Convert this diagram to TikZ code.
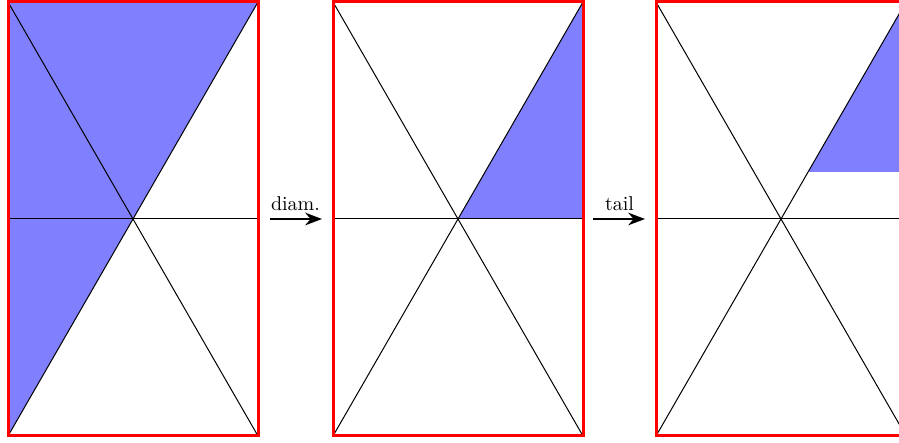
\documentclass[tikz,border=0pt]{standalone}
\usetikzlibrary{arrows.meta,positioning,backgrounds,calc}

\begin{document}
\begin{tikzpicture}[x=0.5pt, y=0.5pt,
  panel/.style={draw=red, line width=1.5pt, minimum width=125pt, minimum height=217pt, inner sep=0pt, outer sep=0pt},
  region/.style={fill=blue!50},
  split/.style={line width=0.5pt},
  arrow/.style={-Stealth, very thick}
]
  \useasboundingbox (0,0) rectangle (899,443);

  \node[panel] (p1) at (133,224) {};
  \node[panel, right=37.5pt of p1] (p2) {};
  \node[panel, right=36.5pt of p2] (p3) {};
  \coordinate (cut) at ($(p3.center)!0.217!(p3.north east)$);

  \begin{scope}[on background layer]
    \fill[region] (p1.north west) -- (p1.north east) -- (p1.center) -- (p1.south west) -- cycle;
    \fill[region] (p2.center) -- (p2.north east) -- (p2.east) -- cycle;
    \fill[region] (cut) -- (p3.north east) -- (cut -| p3.east) -- cycle;
    \foreach \p in {p1,p2,p3} {
      \draw[split] (\p.north west) -- (\p.south east);
      \draw[split] (\p.north east) -- (\p.south west);
      \draw[split] (\p.west) -- (\p.east);
    }
  \end{scope}

  \draw[arrow, shorten <=6pt, shorten >=5.5pt] (p1.east) -- node[above] {diam.} (p2.west);
  \draw[arrow, shorten <=5pt, shorten >=5.5pt] (p2.east) -- node[above] {tail} (p3.west);
\end{tikzpicture}
\end{document}
